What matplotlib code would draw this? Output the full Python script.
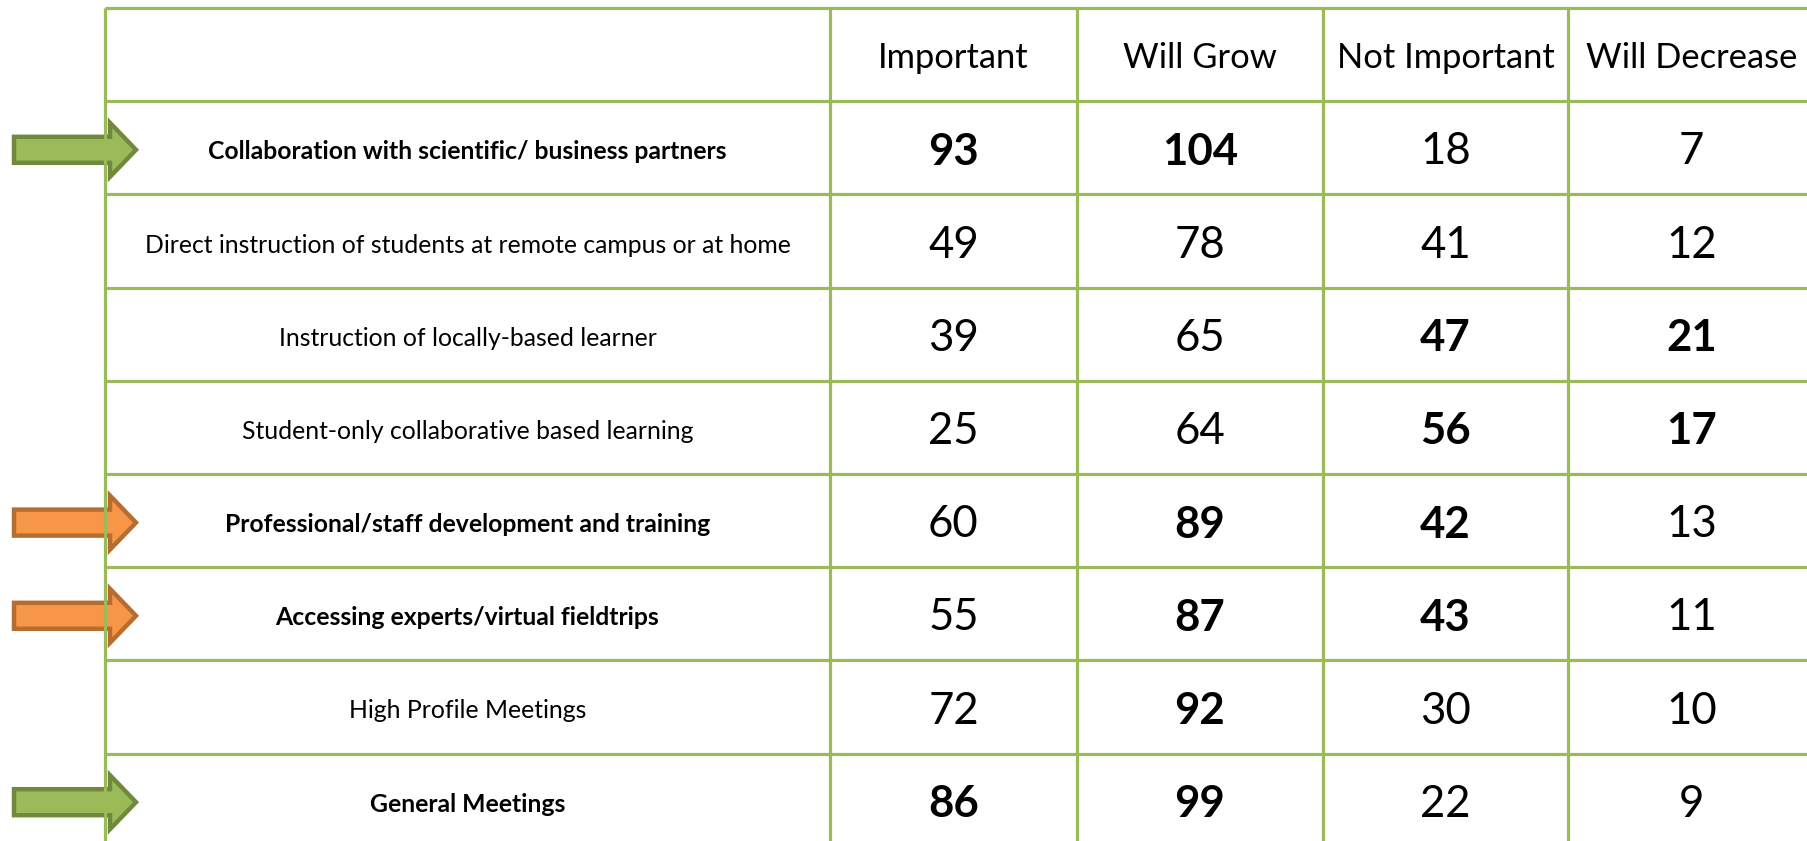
import matplotlib
matplotlib.use("Agg")
import matplotlib.pyplot as plt
from matplotlib.patches import Polygon

plt.rcParams["font.family"] = ["Lato", "DejaVu Sans"]

W, H = 1807, 841

columns = ["Important", "Will Grow", "Not Important", "Will Decrease"]
labels = [
    "Collaboration with scientific/ business partners",
    "Direct instruction of students at remote campus or at home",
    "Instruction of locally-based learner",
    "Student-only collaborative based learning",
    "Professional/staff development and training",
    "Accessing experts/virtual fieldtrips",
    "High Profile Meetings",
    "General Meetings",
]
important = [93, 49, 39, 25, 60, 55, 72, 86]
will_grow = [104, 78, 65, 64, 89, 87, 92, 99]
not_important = [18, 41, 47, 56, 42, 43, 30, 22]
will_decrease = [7, 12, 21, 17, 13, 11, 10, 9]

# which cells are bold in the original
bold_labels = [True, False, False, False, True, True, False, True]
bold_important = [True, False, False, False, False, False, False, True]
bold_grow = [True, False, False, False, True, True, True, True]
bold_not = [False, False, True, True, True, True, False, False]
bold_decrease = [False, False, True, True, False, False, False, False]

# arrows: row index -> colour
arrow_rows = [0, 4, 5, 7]
arrow_kind = ["green", "orange", "orange", "green"]

GRID = "#9BBB59"
ARROW_COLORS = {
    "green": ("#9BBB59", "#71893F"),
    "orange": ("#F79646", "#B66D31"),
}

# layout in pixels
col_edges = [105, 830, 1077, 1323, 1568, 1815]
top = 8
row_h = 93.2
n_rows = len(labels) + 1
row_edges = [top + i * row_h for i in range(n_rows + 1)]

fig = plt.figure(figsize=(W / 100, H / 100), dpi=100)
ax = fig.add_axes([0, 0, 1, 1])
ax.set_xlim(0, W)
ax.set_ylim(H, 0)
ax.axis("off")


def draw_arrow(yc, kind):
    face, edge = ARROW_COLORS[kind]
    x0, xh, xt = 14, 110, 136
    s, h = 13, 27
    pts = [(x0, yc - s), (xh, yc - s), (xh, yc - h), (xt, yc),
           (xh, yc + h), (xh, yc + s), (x0, yc + s)]
    ax.add_patch(Polygon(pts, closed=True, facecolor=face, edgecolor=edge,
                         linewidth=3.2, joinstyle="miter", zorder=1))


for r, kind in zip(arrow_rows, arrow_kind):
    yc = (row_edges[r + 1] + row_edges[r + 2]) / 2 + 2
    draw_arrow(yc, kind)

# grid lines
for y in row_edges:
    ax.plot([col_edges[0], col_edges[-1]], [y, y], color=GRID, lw=2.3,
            solid_capstyle="butt", zorder=2)
for x in col_edges:
    ax.plot([x, x], [top, H + 10], color=GRID, lw=2.3,
            solid_capstyle="butt", zorder=2)

# header
for j, name in enumerate(columns):
    xc = (col_edges[j + 1] + col_edges[j + 2]) / 2
    yc = (row_edges[0] + row_edges[1]) / 2 + 3
    ax.text(xc, yc, name, ha="center", va="center", fontsize=24.8, zorder=3)

series = [important, will_grow, not_important, will_decrease]
bolds = [bold_important, bold_grow, bold_not, bold_decrease]

for i, lab in enumerate(labels):
    yc = (row_edges[i + 1] + row_edges[i + 2]) / 2 + 4
    xc = (col_edges[0] + col_edges[1]) / 2
    ax.text(xc, yc, lab, ha="center", va="center", fontsize=17.8,
            fontweight="bold" if bold_labels[i] else "normal", zorder=3)
    for j in range(len(columns)):
        xc = (col_edges[j + 1] + col_edges[j + 2]) / 2
        ax.text(xc, yc, str(series[j][i]), ha="center", va="center",
                fontsize=31.5, fontweight="bold" if bolds[j][i] else "normal",
                zorder=3)

fig.savefig("out.png", dpi=100, facecolor="white")
